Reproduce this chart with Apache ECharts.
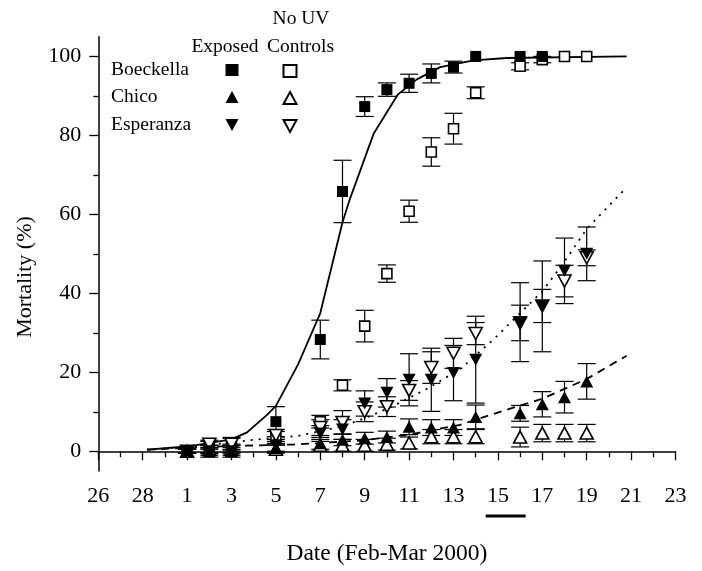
<!DOCTYPE html>
<html>
<head>
<meta charset="utf-8">
<script src="https://cdn.jsdelivr.net/npm/echarts@6/dist/echarts.min.js"></script>
<style>
  html, body { margin: 0; background: #fff; }
  #chart { width: 702px; height: 571px; }
</style>
</head>
<body>
<div id="chart"></div>
<script>
// x value = days since Feb 26 (2000 is a leap year, so Mar 1 = 4)
const tickLabels = ['26', '28', '1', '3', '5', '7', '9', '11', '13', '15', '17', '19', '21', '23'];
const sampleDays = [4, 5, 6, 8, 10, 11, 12, 13, 14, 15, 16, 17, 19, 20, 21, 22]; // Mar 1,2,3,5,7..14,16..19

const boeExp    = [0, 0.5, 0.8, 7.5, 28.3, 65.8, 87.3, 91.6, 93.2, 95.7, 97.3, 100, 100, 100, null, null];
const boeExpErr = [0.5, 1, 1, 3.8, 4.9, 7.9, 2.5, 1.7, 2.3, 2.4, 1.5, 0, 0, 0, 0, 0];
const boeCtl    = [0, 1.5, 2, 3.5, 7.5, 16.7, 31.7, 45, 60.8, 75.8, 81.7, 90.8, 97.5, 99.2, 100, 100];
const boeCtlErr = [0.5, 1, 1.5, 1.5, 1.6, 1.4, 4, 2.2, 2.8, 3.6, 3.9, 1.5, 0.9, 0.8, 0, 0];

const chiExp    = [0, 0, 0, 0.8, 2, 2.9, 3.3, 3.6, 6.2, 6, 6, 8.7, 9.6, 11.9, 13.7, 17.7];
const chiExpErr = [0.5, 1, 1, 1, 1.5, 1.5, 1.5, 1.5, 2, 2, 2, 3, 2, 3.2, 4, 4.5];
const chiCtl    = [0, 0.5, 0.5, 0.5, 1.5, 1.5, 1.5, 1.8, 2.1, 3.7, 3.7, 3.7, 3.6, 4.6, 4.6, 4.6];
const chiCtlErr = [0.5, 1, 1, 1, 1.5, 1.5, 1.5, 1.5, 1.5, 1.8, 1.8, 1.8, 2.5, 2.2, 2.2, 2.2];

const espExp    = [0, 0, 0, 1.5, 4.5, 5.5, 12.1, 14.8, 18.1, 18.1, 19.8, 23.2, 32.7, 36.7, 45.7, 50];
const espExpErr = [0.5, 1.5, 1.5, 1.5, 2, 2.5, 3.2, 3.6, 6.6, 8, 7, 11, 10, 11.5, 8.3, 6.8];
const espCtl    = [0, 1.8, 1.8, 4, 6, 7.3, 10, 11.3, 15.4, 21.2, 24.8, 29.8, 32.5, 36.8, 43.1, 49];
const espCtlErr = [0.5, 1, 1.5, 1.5, 2, 3, 2.5, 2.5, 2.5, 4, 3.8, 2.8, 4.5, 4.2, 4, 2];

// fitted curves as [day, mortality]
const boeFit = [[2.2, 0.4], [4, 1.2], [6, 3], [6.7, 4.8], [7.6, 9.2], [8, 11.5], [9, 22], [10, 35], [11, 58],
  [11.34, 64], [12.4, 80.4], [13.5, 90.4], [14.35, 94.2], [15.4, 97.3], [16.9, 99], [18.4, 99.6], [23.8, 100]];
const chiFit = [[2.2, 0.4], [5.8, 1.3], [8.8, 1.7], [11.8, 2.7], [14, 4.2], [16.3, 6.7], [18.1, 10],
  [20, 13.3], [22, 18.3], [23.8, 24.2]];
const espFit = [[2.2, 0.4], [5, 1.6], [7, 2.9], [9, 3.9], [11, 6.3], [12.2, 8.8], [13.3, 11.5], [14.8, 15.8],
  [16.3, 20.8], [17.8, 28.3], [19, 35], [20, 40.5], [21, 48], [22, 56.3], [23.74, 66.5]];

const barDays = [17.45, 19.25]; // black bar under the x axis

const yLabels = [0, 20, 40, 60, 80, 100];
const yMinor = [10, 30, 50, 70, 90];

const FONT = "'Liberation Serif', 'Times New Roman', serif";
const downTri = 'path://M0,0L12,0L6,11Z';

function errSeries(vals, errs) {
  const data = [];
  sampleDays.forEach((d, i) => {
    if (vals[i] != null && errs[i] > 0) data.push([d, vals[i] - errs[i], vals[i] + errs[i]]);
  });
  return {
    type: 'custom',
    silent: true,
    z: 1,
    encode: { x: 0, y: [1, 2] },
    data: data,
    renderItem: (params, api) => {
      const lo = api.coord([api.value(0), api.value(1)]);
      const hi = api.coord([api.value(0), api.value(2)]);
      const w = 9;
      const st = { stroke: '#000', lineWidth: 1.2 };
      return {
        type: 'group',
        children: [
          { type: 'line', shape: { x1: lo[0], y1: lo[1], x2: hi[0], y2: hi[1] }, style: st },
          { type: 'line', shape: { x1: lo[0] - w, y1: lo[1], x2: lo[0] + w, y2: lo[1] }, style: st },
          { type: 'line', shape: { x1: hi[0] - w, y1: hi[1], x2: hi[0] + w, y2: hi[1] }, style: st }
        ]
      };
    }
  };
}

function markerSeries(name, vals, symbol, size, filled) {
  const data = [];
  sampleDays.forEach((d, i) => { if (vals[i] != null) data.push([d, vals[i]]); });
  return {
    name: name,
    type: 'scatter',
    symbol: symbol,
    symbolSize: size,
    z: 4,
    silent: true,
    data: data,
    itemStyle: filled
      ? { color: '#000', opacity: 1 }
      : { color: '#fff', borderColor: '#000', borderWidth: 1.6, opacity: 1 }
  };
}

function fitSeries(pts, type) {
  return {
    type: 'line',
    data: pts,
    symbol: 'none',
    silent: true,
    z: 2,
    lineStyle: { color: '#000', width: 1.8, type: type }
  };
}

function legendIcon(name, x, y) {
  return {
    data: [name], left: x - 6.5, top: y - 6, padding: 0,
    itemWidth: 13, itemHeight: 12, selectedMode: false,
    formatter: () => '', textStyle: { fontSize: 1 }
  };
}

function txt(text, x, y, align) {
  return {
    type: 'text', x: x, y: y,
    style: { text: text, font: '19.5px ' + FONT, fill: '#000', align: align || 'center', verticalAlign: 'middle' }
  };
}

const chart = echarts.init(document.getElementById('chart'));

const option = {
  animation: false,
  backgroundColor: '#fff',
  textStyle: { fontFamily: FONT, color: '#000' },
  grid: { left: 98.3, right: 26.5, top: 36.7, bottom: 95 },
  xAxis: {
    type: 'value', min: 0, max: 26, interval: 2,
    name: 'Date (Feb-Mar 2000)', nameLocation: 'middle', nameGap: 71,
    nameTextStyle: { fontSize: 23.5, fontFamily: FONT, color: '#000' },
    axisLine: { lineStyle: { color: '#000', width: 1.5 } },
    axisTick: { length: 9, lineStyle: { color: '#000', width: 1.3 } },
    minorTick: { show: true, splitNumber: 2, length: 6, lineStyle: { color: '#000', width: 1.3 } },
    splitLine: { show: false },
    axisLabel: {
      margin: 14, fontSize: 22, fontFamily: FONT, color: '#000',
      formatter: v => tickLabels[Math.round(v / 2)]
    }
  },
  yAxis: [
    {
      type: 'value', min: -5, max: 105, position: 'left',
      axisLine: { show: true, lineStyle: { color: '#000', width: 1.5 } },
      axisTick: { show: true, length: 9, customValues: yLabels, lineStyle: { color: '#000', width: 1.3 } },
      splitLine: { show: false },
      axisLabel: { customValues: yLabels, margin: 17, fontSize: 22, fontFamily: FONT, color: '#000' }
    },
    {
      type: 'value', min: -5, max: 105, position: 'left',
      axisLine: { show: false },
      axisTick: { show: true, length: 5, customValues: yMinor, lineStyle: { color: '#000', width: 1.3 } },
      splitLine: { show: false },
      axisLabel: { show: false }
    }
  ],
  legend: [
    legendIcon('Boeckella exposed', 232, 70),
    legendIcon('Boeckella control', 289, 70),
    legendIcon('Chico exposed', 232, 97),
    legendIcon('Chico control', 289, 97),
    legendIcon('Esperanza exposed', 232, 125),
    legendIcon('Esperanza control', 289, 125)
  ],
  series: [
    errSeries(boeExp, boeExpErr), errSeries(boeCtl, boeCtlErr),
    errSeries(chiExp, chiExpErr), errSeries(chiCtl, chiCtlErr),
    errSeries(espExp, espExpErr), errSeries(espCtl, espCtlErr),
    fitSeries(boeFit, 'solid'),
    fitSeries(chiFit, [8, 6]),
    fitSeries(espFit, [2, 6]),
    markerSeries('Boeckella control', boeCtl, 'rect', 10, false),
    markerSeries('Boeckella exposed', boeExp, 'rect', 11, true),
    markerSeries('Chico control', chiCtl, 'triangle', [13, 12], false),
    markerSeries('Chico exposed', chiExp, 'triangle', [13, 12], true),
    markerSeries('Esperanza control', espCtl, downTri, [13, 12], false),
    markerSeries('Esperanza exposed', espExp, downTri, [13, 12], true)
  ]
};

chart.setOption(option);

// labels of the key table, the y title and the bar below the axis
const x0 = chart.convertToPixel({ xAxisIndex: 0 }, barDays[0]);
const x1 = chart.convertToPixel({ xAxisIndex: 0 }, barDays[1]);
const axisY = chart.convertToPixel({ yAxisIndex: 0 }, -5);

chart.setOption({
  graphic: [
    txt('No UV', 301, 19),
    txt('Exposed', 225, 47),
    txt('Controls', 300.5, 47),
    txt('Boeckella', 111, 70, 'left'),
    txt('Chico', 111, 97, 'left'),
    txt('Esperanza', 111, 125, 'left'),
    {
      type: 'text', x: 25, y: 277, rotation: Math.PI / 2,
      style: { text: 'Mortality (%)', font: '22px ' + FONT, fill: '#000', align: 'center', verticalAlign: 'middle' }
    },
    {
      type: 'line',
      shape: { x1: x0, y1: axisY + 45, x2: x1, y2: axisY + 45 },
      style: { stroke: '#000', lineWidth: 3 }
    }
  ]
});
</script>
</body>
</html>
